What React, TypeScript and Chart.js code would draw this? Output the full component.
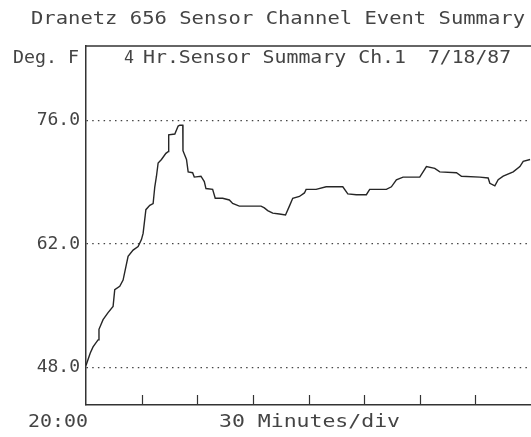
import React, { useEffect, useRef } from "react";
import { Chart, registerables } from "chart.js";

Chart.register(...registerables);

const chartTitle = "Dranetz 656 Sensor Channel Event Summary";
const unitLabel = "Deg. F";
const innerTitleLead = "4";
const innerTitle = "Hr.Sensor Summary Ch.1";
const innerDate = "7/18/87";
const startTimeLabel = "20:00";
const xAxisLabel = "30 Minutes/div";

const yTickValues = [48, 62, 76];
const xTickStepMinutes = 30;

const timeMinutes = [
  0, 2.3, 3.8, 6.5, 7.0, 9.2, 11.9, 14.6, 15.5, 18.2, 20.0, 21.5, 22.7, 25.4, 28.1, 29.9,
  30.8, 32.3, 34.4, 36.2, 37.1, 38.0, 38.9, 40.7, 43.1, 44.3, 44.6, 47.9, 49.7, 50.6, 52.2,
  52.3, 54.2, 55.1, 57.5, 58.4, 62.0, 63.8, 64.7, 68.3, 69.7, 73.7, 77.3, 79.1, 82.7, 94.4,
  96.2, 98.0, 100.7, 104.3, 107.6, 109.7, 111.5, 115.1, 117.8, 118.7, 124.1, 129.5, 138.5,
  141.2, 145.8, 151.2, 153.0, 162.0, 164.7, 167.4, 171.0, 180.0, 181.8, 183.6, 188.1, 190.8,
  199.8, 202.5, 212.4, 216.9, 217.8, 220.5, 222.3, 225.0, 230.4, 234.0, 235.8, 239.5,
];

const tempF = [
  48.2, 49.6, 50.3, 51.1, 52.3, 53.4, 54.2, 54.9, 56.8, 57.2, 57.9, 59.4, 60.6, 61.3, 61.7, 62.5,
  63.2, 65.9, 66.4, 66.6, 68.5, 69.7, 71.2, 71.6, 72.3, 72.5, 74.4, 74.5, 75.4, 75.5, 75.5,
  72.6, 71.6, 70.2, 70.1, 69.6, 69.7, 69.1, 68.3, 68.2, 67.2, 67.2, 67.0, 66.6, 66.3, 66.3,
  66.1, 65.8, 65.5, 65.4, 65.3, 66.3, 67.2, 67.4, 67.8, 68.2, 68.2, 68.5, 68.5,
  67.7, 67.6, 67.6, 68.2, 68.2, 68.5, 69.3, 69.6, 69.6, 70.2, 70.8, 70.6, 70.2,
  70.1, 69.7, 69.6, 69.5, 68.9, 68.6, 69.3, 69.7, 70.2, 70.8, 71.4, 71.6,
];

const FONT = "'DejaVu Sans Mono', monospace";
const INK = "#444";

function fitText(
  ctx: CanvasRenderingContext2D,
  text: string,
  x0: number,
  x1: number,
  baseline: number,
  size: number
) {
  ctx.save();
  ctx.font = `${size}px ${FONT}`;
  ctx.fillStyle = INK;
  ctx.textAlign = "left";
  ctx.textBaseline = "alphabetic";
  const w = ctx.measureText(text).width;
  const sx = (x1 - x0) / w;
  ctx.translate(x0, baseline);
  ctx.scale(sx, 1);
  ctx.fillText(text, 0, 0);
  ctx.restore();
}

const decorPlugin = {
  id: "decor",
  afterDraw(chart: any) {
    const ctx: CanvasRenderingContext2D = chart.ctx;
    const area = chart.chartArea;
    const xs = chart.scales.x;

    ctx.save();
    ctx.strokeStyle = "#333";
    ctx.lineWidth = 1.5;
    ctx.beginPath();
    ctx.moveTo(area.left, area.top);
    ctx.lineTo(area.right, area.top);
    ctx.stroke();

    ctx.lineWidth = 1.2;
    for (const t of xs.ticks) {
      if (t.value <= xs.min || t.value >= xs.max) continue;
      const px = Math.round(xs.getPixelForValue(t.value)) + 0.5;
      ctx.beginPath();
      ctx.moveTo(px, area.bottom);
      ctx.lineTo(px, area.bottom - 10);
      ctx.stroke();
    }
    ctx.restore();

    fitText(ctx, chartTitle, 31, 525, 24, 18);
    fitText(ctx, unitLabel, 13, 79, 63, 18);
    fitText(ctx, innerTitleLead, 124, 134, 63, 18);
    fitText(ctx, innerTitle, 143, 406, 63, 18);
    fitText(ctx, innerDate, 428, 511, 63, 18);
    fitText(ctx, startTimeLabel, 28, 88, 427, 18);
    fitText(ctx, xAxisLabel, 219, 400, 427, 18);
  },
};

export default function App() {
  const canvasRef = useRef<HTMLCanvasElement | null>(null);

  useEffect(() => {
    document.body.style.margin = "0";
    const canvas = canvasRef.current;
    if (!canvas) return;
    const points = timeMinutes.map((t, i) => ({ x: t, y: tempF[i] }));
    const chart = new Chart(canvas, {
      type: "line",
      data: {
        datasets: [
          {
            data: points,
            borderColor: "#262626",
            borderWidth: 1.4,
            pointRadius: 0,
            tension: 0,
            fill: false,
          },
        ],
      },
      options: {
        responsive: false,
        animation: false,
        devicePixelRatio: 1,
        layout: { padding: { top: 46, right: 0, left: 0, bottom: 0 } },
        plugins: {
          legend: { display: false },
          tooltip: { enabled: false },
          title: { display: false },
        },
        scales: {
          x: {
            type: "linear",
            min: 0,
            max: 240,
            ticks: { display: false, stepSize: xTickStepMinutes },
            grid: { display: false },
            border: { display: true, color: "#333", width: 1.5 },
            afterFit: (scale: any) => {
              scale.height = 32;
            },
          },
          y: {
            type: "linear",
            min: 43.7,
            max: 84.5,
            afterBuildTicks: (scale: any) => {
              scale.ticks = yTickValues.map((v) => ({ value: v }));
            },
            ticks: {
              padding: 6,
              color: INK,
              font: { family: FONT, size: 18 },
              callback: (v: any) => Number(v).toFixed(1),
            },
            grid: {
              display: true,
              drawTicks: false,
              color: "#444",
              lineWidth: 1.3,
            },
            border: { display: true, color: "#333", width: 1.5, dash: [1.5, 4.2] },
            afterFit: (scale: any) => {
              scale.width = 86;
            },
          },
        },
      },
      plugins: [decorPlugin],
    });
    return () => chart.destroy();
  }, []);

  return (
    <div style={{ width: 531, height: 437, background: "#fff" }}>
      <canvas ref={canvasRef} width={531} height={437} />
    </div>
  );
}
